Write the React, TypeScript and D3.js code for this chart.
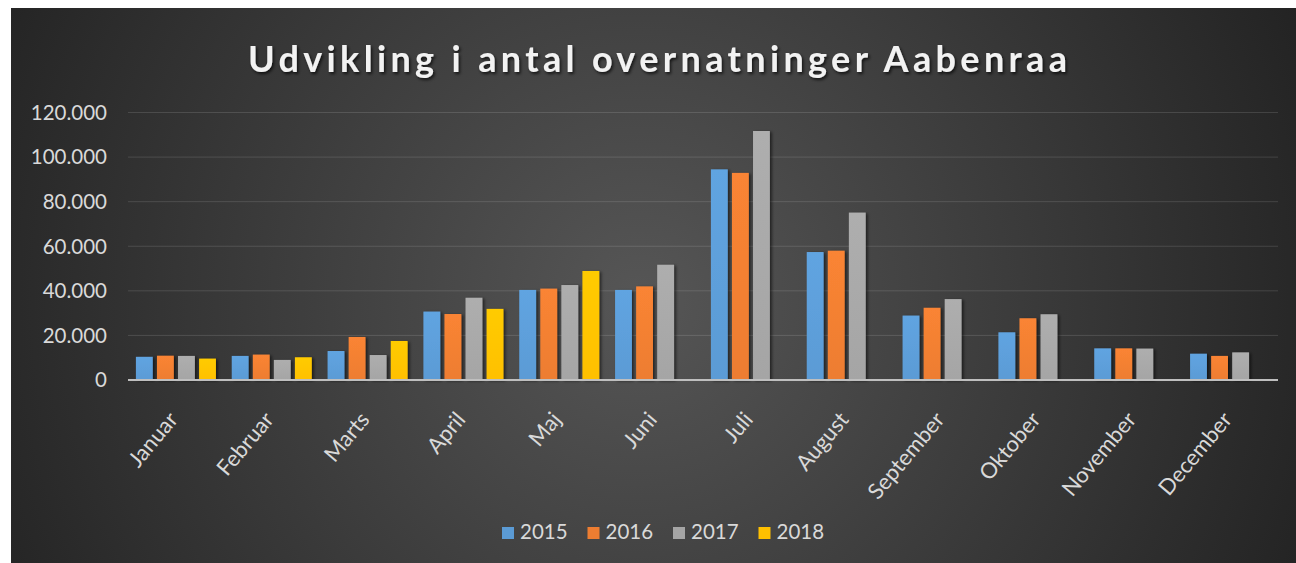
import React from "react";
import * as d3 from "d3";

const months = ["Januar", "Februar", "Marts", "April", "Maj", "Juni", "Juli", "August", "September", "Oktober", "November", "December"];
const years = ["2015", "2016", "2017", "2018"];
const v2015 = [10400, 10800, 13000, 30700, 40400, 40400, 94500, 57400, 28900, 21400, 14200, 11800];
const v2016 = [10900, 11400, 19300, 29600, 41000, 42000, 92900, 58000, 32400, 27700, 14200, 10800];
const v2017 = [10800, 9000, 11200, 36900, 42600, 51700, 111700, 75100, 36300, 29500, 14100, 12400];
const v2018: (number | null)[] = [9600, 10200, 17500, 31900, 48900, null, null, null, null, null, null, null];
const yTicks = [0, 20000, 40000, 60000, 80000, 100000, 120000];
const colors = ["#5B9BD5", "#ED7D31", "#A5A5A5", "#FFC000"];
const title = "Udvikling i antal overnatninger Aabenraa";

const series = [v2015, v2016, v2017, v2018];

const W = 1296;
const H = 563;
const left = 128;
const right = 1278;
const top = 112.5;
const bottom = 380;

const locale = d3.formatLocale({ decimal: ",", thousands: ".", grouping: [3], currency: ["", " kr."] });
const fmt = locale.format(",d");

export default function App() {
  const x = d3.scaleBand<string>().domain(months).range([left, right]).paddingInner(0.165).paddingOuter(0.0825);
  const xi = d3.scaleBand<string>().domain(years).range([0, x.bandwidth()]).paddingInner(0.2).paddingOuter(0);
  const y = d3.scaleLinear().domain([0, 120000]).range([bottom, top]);
  const font = "Lato, 'Open Sans', sans-serif";

  return (
    <svg width={W} height={H} style={{ position: "absolute", left: 0, top: 0 }} xmlns="http://www.w3.org/2000/svg">
      <defs>
        <radialGradient id="bg" gradientUnits="userSpaceOnUse" cx={640} cy={300} r={720}>
          <stop offset="0" stopColor="#565656" />
          <stop offset="1" stopColor="#232323" />
        </radialGradient>
        {colors.map((c, i) => (
          <linearGradient key={i} id={`bar${i}`} x1="0" y1="0" x2="0" y2="1">
            <stop offset="0" stopColor={d3.color(c)!.brighter(0.15).formatHex()} />
            <stop offset="1" stopColor={c} />
          </linearGradient>
        ))}
        <filter id="shadow" x="-30%" y="-10%" width="160%" height="120%">
          <feDropShadow dx="2" dy="1" stdDeviation="1.5" floodColor="#000" floodOpacity="0.55" />
        </filter>
        <filter id="tshadow" x="-5%" y="-30%" width="110%" height="160%">
          <feDropShadow dx="1.5" dy="2" stdDeviation="1.5" floodColor="#000" floodOpacity="0.7" />
        </filter>
      </defs>
      <rect x={11} y={8} width={W - 11} height={H - 8} fill="url(#bg)" />

      <text
        x={657.5}
        y={72}
        textAnchor="middle"
        fontFamily={font}
        fontWeight={700}
        fontSize={36}
        fill="#f2f2f2"
        textLength={819}
        lengthAdjust="spacing"
        filter="url(#tshadow)"
      >
        {title}
      </text>

      {yTicks.map((t) => (
        <g key={t}>
          {t > 0 && <line x1={left} x2={right} y1={y(t)} y2={y(t)} stroke="#ffffff" strokeOpacity={0.13} strokeWidth={1} />}
          <text x={107} y={y(t)} dy="0.36em" textAnchor="end" fontFamily={font} fontSize={20.5} fill="#d9d9d9">
            {fmt(t)}
          </text>
        </g>
      ))}

      {months.map((m, mi) => (
        <g key={m} transform={`translate(${x(m)},0)`}>
          {series.map((s, si) => {
            const v = s[mi];
            if (v == null) return null;
            return (
              <rect
                key={si}
                x={xi(years[si])}
                y={y(v)}
                width={xi.bandwidth()}
                height={y(0) - y(v)}
                fill={`url(#bar${si})`}
                filter="url(#shadow)"
              />
            );
          })}
        </g>
      ))}

      <line x1={left} x2={right} y1={y(0)} y2={y(0)} stroke="#bfbfbf" strokeWidth={2} />

      {months.map((m) => {
        const cx = (x(m) as number) + x.bandwidth() / 2;
        return (
          <text
            key={m}
            transform={`translate(${cx - 9},${410}) rotate(-50)`}
            textAnchor="end"
            dy="0.72em"
            fontFamily={font}
            fontSize={22}
            fill="#d9d9d9"
          >
            {m}
          </text>
        );
      })}

      {years.map((yr, i) => {
        const lx = 502 + i * 85.5;
        return (
          <g key={yr}>
            <rect x={lx} y={527} width={12} height={12} fill={colors[i]} />
            <text x={lx + 18} y={539} fontFamily={font} fontSize={20.5} fill="#d9d9d9">
              {yr}
            </text>
          </g>
        );
      })}
    </svg>
  );
}
